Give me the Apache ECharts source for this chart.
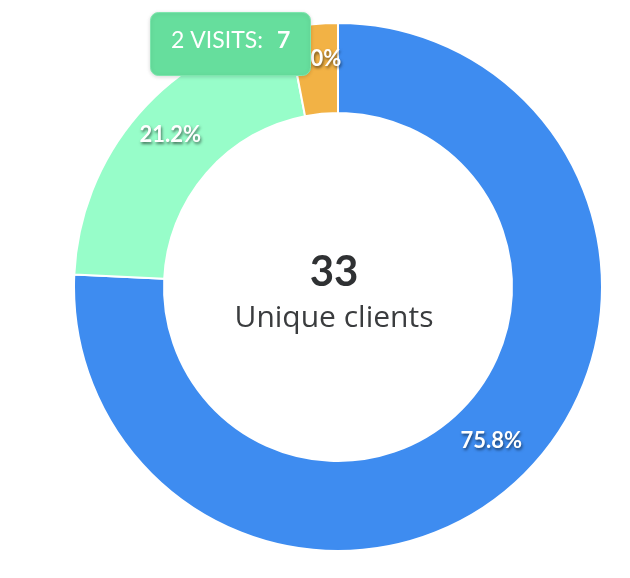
<!DOCTYPE html>
<html>
<head>
<meta charset="utf-8">
<script src="https://cdn.jsdelivr.net/npm/echarts@6/dist/echarts.min.js"></script>
<style>html,body{margin:0;padding:0;background:#fff;}#c{width:630px;height:578px;}</style>
</head>
<body>
<div id="c"></div>
<script>
var categories = ['1 visit', '2 visits', '3+ visits'];
var values = [25, 7, 1];
var colors = ['#3e8cf0', '#97fdc9', '#f2b245'];
var centerLabel = 'Unique clients';
var tooltipIndex = 1;

var total = values.reduce(function (a, b) { return a + b; }, 0);
var chart = echarts.init(document.getElementById('c'));
var FONT = 'Lato, "Noto Sans", sans-serif';
var FONT2 = '"Open Sans", "Noto Sans", sans-serif';

chart.setOption({
  animation: false,
  series: [{
    type: 'pie',
    z: 2,
    center: [338, 287],
    radius: [174, 264],
    startAngle: 90,
    clockwise: true,
    avoidLabelOverlap: false,
    itemStyle: { borderColor: '#ffffff', borderWidth: 2 },
    label: {
      show: true,
      position: 'inside',
      offset: [0, -7],
      formatter: function (p) { return (p.value / total * 100).toFixed(1) + '%'; },
      color: '#ffffff',
      fontFamily: FONT,
      fontWeight: 'bold',
      fontSize: 22,
      textShadowColor: 'rgba(0,0,0,0.55)',
      textShadowBlur: 3,
      textShadowOffsetX: 1,
      textShadowOffsetY: 2
    },
    labelLine: { show: false },
    emphasis: { disabled: true },
    data: categories.map(function (c, i) {
      return { name: c, value: values[i], itemStyle: { color: colors[i] } };
    })
  }],
  graphic: [
    {
      type: 'text', x: 334, y: 272, z: 10,
      style: { text: String(total), font: 'bold 42px ' + FONT, fill: '#2f3133', textAlign: 'center', textVerticalAlign: 'middle' }
    },
    {
      type: 'text', x: 334, y: 318, z: 10,
      style: { text: centerLabel, font: '30px ' + FONT2, fill: '#3a3c3e', textAlign: 'center', textVerticalAlign: 'middle' }
    },
    {
      type: 'rect', left: 150, top: 12, z: 100, zlevel: 1,
      shape: { x: 0, y: 0, width: 160, height: 63, r: 8 },
      style: { fill: '#66de9d', stroke: '#7ee6ad', lineWidth: 1, shadowColor: 'rgba(0,0,0,0.15)', shadowBlur: 4, shadowOffsetY: 1 }
    },
    {
      type: 'text', left: 171, top: 29, z: 101, zlevel: 1,
      style: {
        text: '{a|' + categories[tooltipIndex].toUpperCase() + ':}{b|' + values[tooltipIndex] + '}',
        rich: {
          a: { fontFamily: FONT, fontSize: 23, fill: '#ffffff' },
          b: { fontFamily: FONT, fontSize: 23, fontWeight: 'bold', fill: '#ffffff', padding: [0, 0, 0, 14] }
        },
        fill: '#ffffff'
      }
    }
  ]
});
</script>
</body>
</html>
